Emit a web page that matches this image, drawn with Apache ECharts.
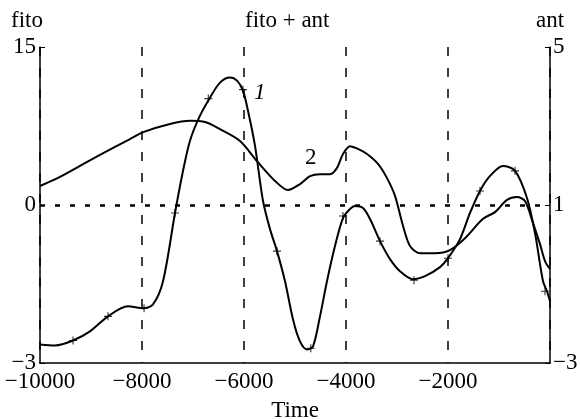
<!DOCTYPE html>
<html>
<head>
<meta charset="utf-8">
<script src="https://cdn.jsdelivr.net/npm/echarts@6/dist/echarts.min.js"></script>
<style>html,body{margin:0;padding:0;background:#fff}#c{width:580px;height:419px}</style>
</head>
<body>
<div id="c"></div>
<script>
// x values (Time)
const timeFito = [-10000,-9706,-9353,-9020,-8667,-8275,-7980,-7784,-7588,-7353,-7216,-7059,-6863,-6667,-6471,-6275,-6137,-6020,-5922,-5784,-5627,-5490,-5353,-5196,-5039,-4902,-4765,-4647,-4510,-4373,-4216,-4059,-3922,-3824,-3667,-3529,-3333,-3137,-2941,-2686,-2451,-2157,-2000,-1765,-1569,-1373,-1176,-922,-686,-451,-294,-137,-59,0];
// curve 1 (fito + ant), left-scale units
const valFito = [-13.24,-13.33,-12.86,-12.0,-10.57,-9.62,-9.81,-9.43,-7.24,-0.76,2.76,6.10,8.48,10.19,11.62,12.10,11.81,10.86,8.95,5.62,0.38,-2.29,-4.38,-7.24,-10.86,-12.95,-13.71,-13.43,-10.57,-7.24,-3.90,-1.24,-0.38,-0.10,-0.29,-1.33,-3.43,-5.14,-6.29,-7.05,-6.76,-5.90,-5.05,-3.24,-0.76,1.33,2.76,3.71,3.24,0.67,-2.67,-7.24,-8.19,-9.14];
// "+" markers on curve 1
const markTime = [-9353,-8667,-7960,-7353,-6700,-6020,-5353,-4690,-4060,-3333,-2667,-2000,-1373,-686,-98];
const markVal = [-12.86,-10.57,-9.8,-0.76,10.1,10.95,-4.38,-13.6,-1.05,-3.43,-7.14,-5.05,1.33,3.24,-8.19];
// curve 2 (ant), right-scale units
const timeAnt = [-10000,-9608,-9216,-8824,-8235,-7961,-7451,-7059,-6765,-6471,-6078,-5745,-5392,-5137,-4902,-4706,-4510,-4314,-4176,-4059,-3922,-3765,-3588,-3373,-3196,-3039,-2882,-2745,-2549,-2255,-1961,-1667,-1314,-1078,-843,-647,-490,-333,-196,-98,0];
const valAnt = [1.48,1.71,1.99,2.27,2.67,2.85,3.05,3.13,3.10,2.92,2.62,2.11,1.61,1.38,1.53,1.73,1.78,1.78,1.94,2.29,2.49,2.42,2.29,2.04,1.68,1.23,0.47,-0.04,-0.22,-0.22,-0.14,0.16,0.65,0.82,1.13,1.20,1.10,0.54,0.01,-0.42,-0.62];
// tick labels
const xTickValues = [-10000,-8000,-6000,-4000,-2000];
const xTickLabels = ['\u221210000','\u22128000','\u22126000','\u22124000','\u22122000'];
const leftTickValues = [-15,0,15];
const leftTickLabels = ['\u22123','0','15'];
const rightTickValues = [-3,1,5];
const rightTickLabels = ['\u22123','1','5'];

const FONT = 'Liberation Serif';
const FS = 23;
const chart = echarts.init(document.getElementById('c'));
const zip = (a,b) => a.map((v,i) => [v,b[i]]);
const lbl = (vals, labels) => v => { const i = vals.indexOf(v); return i >= 0 ? labels[i] : ''; };

chart.setOption({
  animation: false,
  backgroundColor: '#fff',
  grid: {left: 40, right: 30, top: 47, bottom: 56, containLabel: false, outerBoundsMode: 'none'},
  xAxis: {
    type: 'value', min: -10000, max: 0, interval: 2000,
    name: 'Time', nameLocation: 'middle', nameGap: 36,
    nameTextStyle: {color: '#000', fontFamily: FONT, fontSize: FS},
    axisLine: {onZero: false, lineStyle: {color: '#000', width: 1.5}},
    axisTick: {show: false},
    axisLabel: {color: '#000', fontFamily: FONT, fontSize: FS, margin: 7, showMaxLabel: false, formatter: lbl(xTickValues, xTickLabels)},
    splitLine: {show: true, lineStyle: {color: '#000', width: 1.5, type: [9, 12]}}
  },
  yAxis: [{
    type: 'value', min: -15, max: 15, interval: 15, position: 'left',
    axisLine: {show: true, onZero: false, lineStyle: {color: '#000', width: 1.5}},
    axisTick: {show: true, inside: true, length: 5, lineStyle: {color: '#000'}},
    axisLabel: {color: '#000', fontFamily: FONT, fontSize: FS, margin: 4, formatter: lbl(leftTickValues, leftTickLabels)},
    splitLine: {show: false}
  }, {
    type: 'value', min: -3, max: 5, interval: 4, position: 'right',
    axisLine: {show: true, onZero: false, lineStyle: {color: '#000', width: 1.5}},
    axisTick: {show: true, inside: true, length: 5, lineStyle: {color: '#000'}},
    axisLabel: {color: '#000', fontFamily: FONT, fontSize: FS, margin: 3, formatter: lbl(rightTickValues, rightTickLabels)},
    splitLine: {show: false}
  }],
  graphic: [
    {type: 'text', left: 11, top: 9, style: {text: 'fito', font: FS + 'px "Liberation Serif"', fill: '#000'}},
    {type: 'text', left: 536, top: 9, style: {text: 'ant', font: FS + 'px "Liberation Serif"', fill: '#000'}},
    {type: 'text', left: 245, top: 9, style: {text: 'fito + ant', font: FS + 'px "Liberation Serif"', fill: '#000'}},
    {type: 'text', left: 254, top: 81, style: {text: '1', font: 'italic ' + FS + 'px "Liberation Serif"', fill: '#000'}},
    {type: 'text', left: 305, top: 146, style: {text: '2', font: FS + 'px "Liberation Serif"', fill: '#000'}}
  ],
  series: [{
    type: 'line', yAxisIndex: 0, data: zip(timeFito, valFito), smooth: 0.3,
    showSymbol: false, lineStyle: {color: '#000', width: 2},
    markLine: {silent: true, symbol: 'none', label: {show: false},
      lineStyle: {color: '#000', width: 2.5, type: [5, 10]}, data: [{yAxis: 0}]}
  }, {
    type: 'scatter', yAxisIndex: 0, data: zip(markTime, markVal),
    symbol: 'path://M4.3,0H5.7V4.3H10V5.7H5.7V10H4.3V5.7H0V4.3H4.3Z', symbolSize: 8,
    itemStyle: {color: '#000'}
  }, {
    type: 'line', yAxisIndex: 1, data: zip(timeAnt, valAnt), smooth: 0.3,
    showSymbol: false, lineStyle: {color: '#000', width: 2}
  }]
});
</script>
</body>
</html>
